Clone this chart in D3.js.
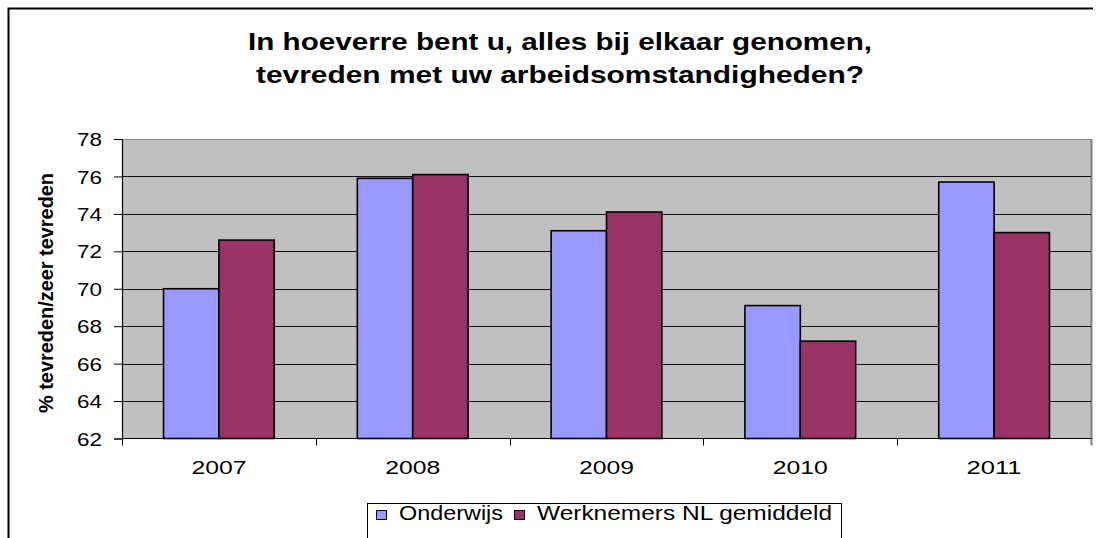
<!DOCTYPE html>
<html>
<head>
<meta charset="utf-8">
<script src="https://cdn.jsdelivr.net/npm/d3@7"></script>
<style>
  body { margin: 0; background: #fff; }
  svg { display: block; font-family: Arial, "Liberation Sans", sans-serif; }
</style>
</head>
<body>
<svg id="chart"></svg>
<script>
// data
const years = ['2007', '2008', '2009', '2010', '2011'];
const onderwijs = [70.0, 75.9, 73.1, 69.1, 75.7];
const werknemers = [72.6, 76.1, 74.1, 67.2, 73.0];
const seriesNames = ['Onderwijs', 'Werknemers NL gemiddeld'];
const yTicks = [62, 64, 66, 68, 70, 72, 74, 76, 78];
const titleLines = ['In hoeverre bent u, alles bij elkaar genomen,', 'tevreden met uw arbeidsomstandigheden?'];
const yTitle = '% tevreden/zeer tevreden';

// constants
const width = 1102;
const height = 538;
const plot = { left: 122, right: 1091, top: 139, bottom: 438.5 };
const colors = ['#9999FF', '#993366'];

const svg = d3.select('#chart')
  .attr('width', width)
  .attr('height', height);

// outer frame (right & bottom cut off)
svg.append('path')
  .attr('d', `M8.5,${height} V8.5 H1093`)
  .attr('fill', 'none')
  .attr('stroke', '#000')
  .attr('stroke-width', 2);

// title
svg.selectAll('.title')
  .data(titleLines)
  .enter().append('text')
  .attr('class', 'title')
  .attr('x', 560)
  .attr('y', (d, i) => 50 + i * 32.5)
  .attr('text-anchor', 'middle')
  .attr('font-size', '24px')
  .attr('font-weight', 'bold')
  .attr('textLength', (d, i) => i === 0 ? 624 : 608)
  .attr('lengthAdjust', 'spacingAndGlyphs')
  .text(d => d);

// scales
const x0 = d3.scaleBand()
  .domain(years)
  .range([plot.left, plot.right])
  .paddingInner(1.5 / 3.5)
  .paddingOuter(0.75 / 3.5);

const x1 = d3.scaleBand()
  .domain(seriesNames)
  .range([0, x0.bandwidth()]);

const y = d3.scaleLinear()
  .domain([62, 78])
  .range([plot.bottom, plot.top]);

// plot area
svg.append('rect')
  .attr('x', plot.left)
  .attr('y', plot.top)
  .attr('width', plot.right - plot.left)
  .attr('height', plot.bottom - plot.top)
  .attr('fill', '#C0C0C0');

svg.append('path')
  .attr('d', `M${plot.left},${plot.top + 0.5} H${plot.right}`)
  .attr('stroke', '#8a8a8a')
  .attr('stroke-width', 1);

svg.append('path')
  .attr('d', `M${plot.right + 0.5},${plot.top} V${plot.bottom}`)
  .attr('stroke', '#808080')
  .attr('stroke-width', 2);

// gridlines
svg.selectAll('.grid')
  .data(yTicks.filter(t => t > 62 && t < 78))
  .enter().append('line')
  .attr('class', 'grid')
  .attr('x1', plot.left)
  .attr('x2', plot.right)
  .attr('y1', d => Math.round(y(d)) + 0.5)
  .attr('y2', d => Math.round(y(d)) + 0.5)
  .attr('stroke', '#111')
  .attr('stroke-width', 1);

// bars
const rows = years.map((yr, i) => ({ year: yr, values: [onderwijs[i], werknemers[i]] }));

const groups = svg.selectAll('.year')
  .data(rows)
  .enter().append('g')
  .attr('class', 'year')
  .attr('transform', d => `translate(${x0(d.year)},0)`);

groups.selectAll('rect')
  .data(d => d.values.map((v, j) => ({ name: seriesNames[j], value: v, j })))
  .enter().append('rect')
  .attr('x', d => x1(d.name))
  .attr('y', d => y(d.value))
  .attr('width', x1.bandwidth())
  .attr('height', d => plot.bottom - y(d.value))
  .attr('fill', d => colors[d.j])
  .attr('stroke', '#000')
  .attr('stroke-width', 1.6);

// y axis
const yAxis = svg.append('g')
  .attr('transform', `translate(${plot.left},0)`)
  .call(d3.axisLeft(y).tickValues(yTicks).tickSize(8).tickPadding(12));

yAxis.select('.domain').attr('stroke', '#000').attr('stroke-width', 1.2);
yAxis.selectAll('.tick line').attr('stroke', '#000');
yAxis.selectAll('.tick text')
  .attr('font-size', '18.5px')
  .attr('font-family', 'Arial, "Liberation Sans", sans-serif')
  .attr('fill', '#000')
  .attr('textLength', 25)
  .attr('lengthAdjust', 'spacingAndGlyphs')
  .attr('dy', '0.36em');

// x axis
const xAxis = svg.append('g')
  .attr('transform', `translate(0,${plot.bottom})`)
  .call(d3.axisBottom(x0).tickSize(0));

xAxis.select('.domain').remove();
xAxis.selectAll('.tick text')
  .attr('y', 35.5)
  .attr('dy', 0)
  .attr('font-size', '19px')
  .attr('font-family', 'Arial, "Liberation Sans", sans-serif')
  .attr('fill', '#000')
  .attr('textLength', 55)
  .attr('lengthAdjust', 'spacingAndGlyphs');

svg.append('line')
  .attr('x1', plot.left)
  .attr('x2', plot.right + 1.5)
  .attr('y1', plot.bottom)
  .attr('y2', plot.bottom)
  .attr('stroke', '#000')
  .attr('stroke-width', 1.2);

// category boundary ticks
svg.selectAll('.xtick')
  .data(d3.range(years.length + 1))
  .enter().append('line')
  .attr('class', 'xtick')
  .attr('x1', i => Math.round(plot.left + i * x0.step()) + 0.5)
  .attr('x2', i => Math.round(plot.left + i * x0.step()) + 0.5)
  .attr('y1', plot.bottom)
  .attr('y2', plot.bottom + 7)
  .attr('stroke', (d, i) => i === years.length ? '#808080' : '#000')
  .attr('stroke-width', (d, i) => i === years.length ? 2 : 1);

// y axis title
svg.append('text')
  .attr('transform', 'translate(53,293) rotate(-90) scale(1,1.3)')
  .attr('text-anchor', 'middle')
  .attr('font-size', '16px')
  .attr('font-weight', 'bold')
  .attr('textLength', 240)
  .attr('lengthAdjust', 'spacingAndGlyphs')
  .text(yTitle);

// legend
const legend = svg.append('g');

legend.append('rect')
  .attr('x', 367.5)
  .attr('y', 503.5)
  .attr('width', 474)
  .attr('height', 60)
  .attr('fill', '#fff')
  .attr('stroke', '#000')
  .attr('stroke-width', 1);

const legendX = [376.5, 514.5];
const legendTextX = [399, 537];
const legendLen = [104, 295];

seriesNames.forEach((name, i) => {
  legend.append('rect')
    .attr('x', legendX[i])
    .attr('y', 510.5)
    .attr('width', 10)
    .attr('height', 9)
    .attr('fill', colors[i])
    .attr('stroke', '#000')
    .attr('stroke-width', 1);

  legend.append('text')
    .attr('x', legendTextX[i])
    .attr('y', 520)
    .attr('font-size', '19.5px')
    .attr('textLength', legendLen[i])
    .attr('lengthAdjust', 'spacingAndGlyphs')
    .text(name);
});
</script>
</body>
</html>
